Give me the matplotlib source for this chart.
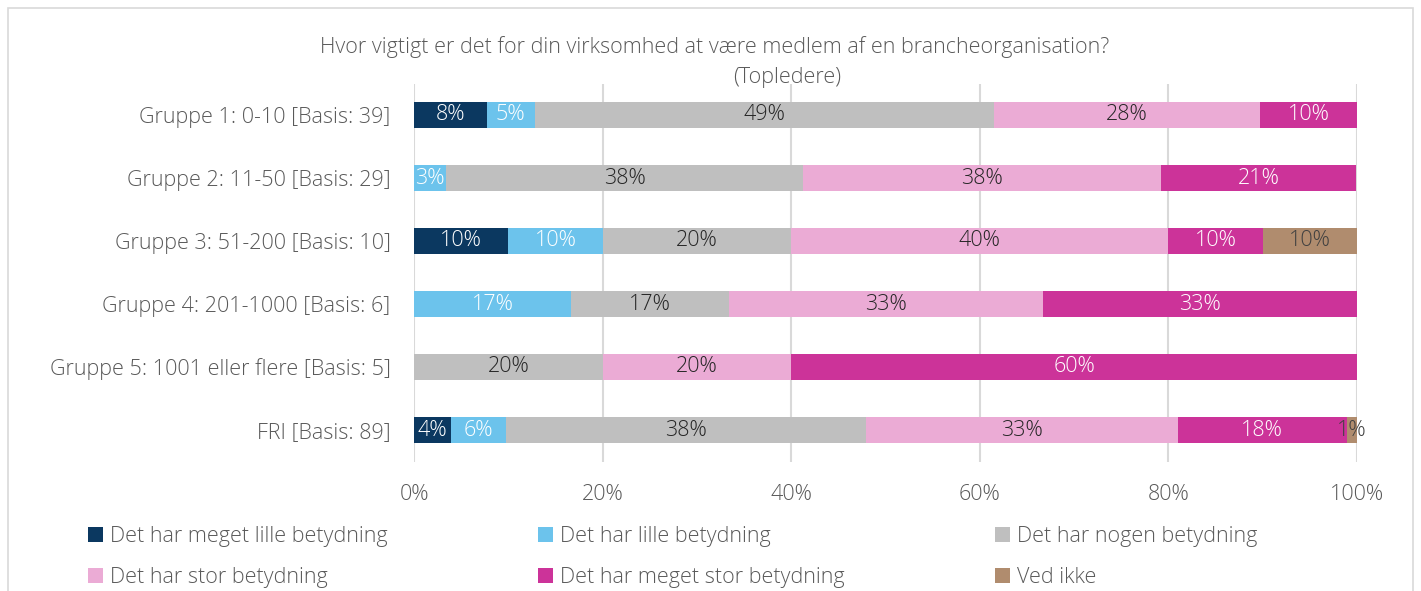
import matplotlib
matplotlib.use("Agg")
import matplotlib.pyplot as plt
from matplotlib.patches import Rectangle, Patch
import numpy as np

FONT = ['Open Sans', 'DejaVu Sans']
plt.rcParams['font.family'] = FONT

categories = ["Gruppe 1: 0-10 [Basis: 39]", "Gruppe 2: 11-50 [Basis: 29]",
              "Gruppe 3: 51-200 [Basis: 10]", "Gruppe 4: 201-1000 [Basis: 6]",
              "Gruppe 5: 1001 eller flere [Basis: 5]", "FRI [Basis: 89]"]
series_names = ["Det har meget lille betydning", "Det har lille betydning",
                "Det har nogen betydning", "Det har stor betydning",
                "Det har meget stor betydning", "Ved ikke"]
meget_lille = [7.7, 0.0, 10.0, 0.0, 0.0, 3.9]
lille = [5.1, 3.4, 10.0, 16.7, 0.0, 5.9]
nogen = [48.7, 37.9, 20.0, 16.7, 20.0, 38.1]
stor = [28.2, 37.9, 40.0, 33.3, 20.0, 33.1]
meget_stor = [10.3, 20.7, 10.0, 33.3, 60.0, 17.9]
ved_ikke = [0.0, 0.0, 10.0, 0.0, 0.0, 1.1]
xticks = [0, 20, 40, 60, 80, 100]
xticklabels = ["0%", "20%", "40%", "60%", "80%", "100%"]

series = [meget_lille, lille, nogen, stor, meget_stor, ved_ikke]
colors = ["#0B3860", "#6CC3EC", "#BFBFBF", "#EBABD5", "#CC3399", "#B08C6E"]
label_colors = ["white", "white", "#262626", "#262626", "white", "#404040"]

W, H = 1421, 591
FS = 15.5
WEIGHT = 'light'
fig = plt.figure(figsize=(W / 100, H / 100), dpi=100)
fig.patches.append(Rectangle((8 / W, -0.01), (1413 - 8) / W, (H - 8) / H + 0.01,
                             transform=fig.transFigure, fill=False,
                             edgecolor="#D9D9D9", linewidth=1.2))

ax = fig.add_axes([414 / W, 1 - 461.5 / H, (1357 - 414) / W, (461.5 - 83.5) / H])
y = np.arange(len(categories))
left = np.zeros(len(categories))
text_kw = dict(fontsize=FS, fontweight=WEIGHT)
for vals, col, lc in zip(series, colors, label_colors):
    vals = np.array(vals)
    ax.barh(y, vals, left=left, color=col, height=0.42, zorder=3)
    for yi, v, l in zip(y, vals, left):
        if v > 0:
            ax.text(l + v / 2, yi, f"{round(v):.0f}%", ha='center', va='center',
                    color=lc, zorder=4, **text_kw)
    left += vals

ax.set_xlim(0, 100)
ax.set_ylim(len(categories) - 0.5, -0.5)
ax.set_yticks(y)
ax.set_yticklabels(categories, **text_kw)
ax.set_xticks(xticks)
ax.set_xticklabels(xticklabels, **text_kw)
ax.tick_params(axis='both', length=0, colors="#595959")
ax.tick_params(axis='y', pad=17)
ax.tick_params(axis='x', pad=16.5)
ax.xaxis.grid(True, color="#D9D9D9", linewidth=1.5, zorder=0)
for s in ax.spines.values():
    s.set_visible(False)

fig.text(715 / W, 1 - 47 / H, "Hvor vigtigt er det for din virksomhed at være medlem af en brancheorganisation?",
         ha='center', va='center', color="#595959", **text_kw)
fig.text(787 / W, 1 - 77 / H, "(Topledere)", ha='center', va='center', color="#595959", **text_kw)

order = [0, 3, 1, 4, 2, 5]
handles = [Patch(facecolor=colors[i], edgecolor='none') for i in order]
labels = [series_names[i] for i in order]
leg = fig.legend(handles, labels, ncol=3, loc='upper left',
                 bbox_to_anchor=(69 / W, 1 - 507 / H), frameon=False,
                 prop=dict(family=FONT, size=FS, weight=WEIGHT),
                 handlelength=0.7, handleheight=0.7, handletextpad=0.3,
                 columnspacing=7.0, labelspacing=0.9)
for t in leg.get_texts():
    t.set_color("#595959")

fig.savefig("out.png", dpi=100)
